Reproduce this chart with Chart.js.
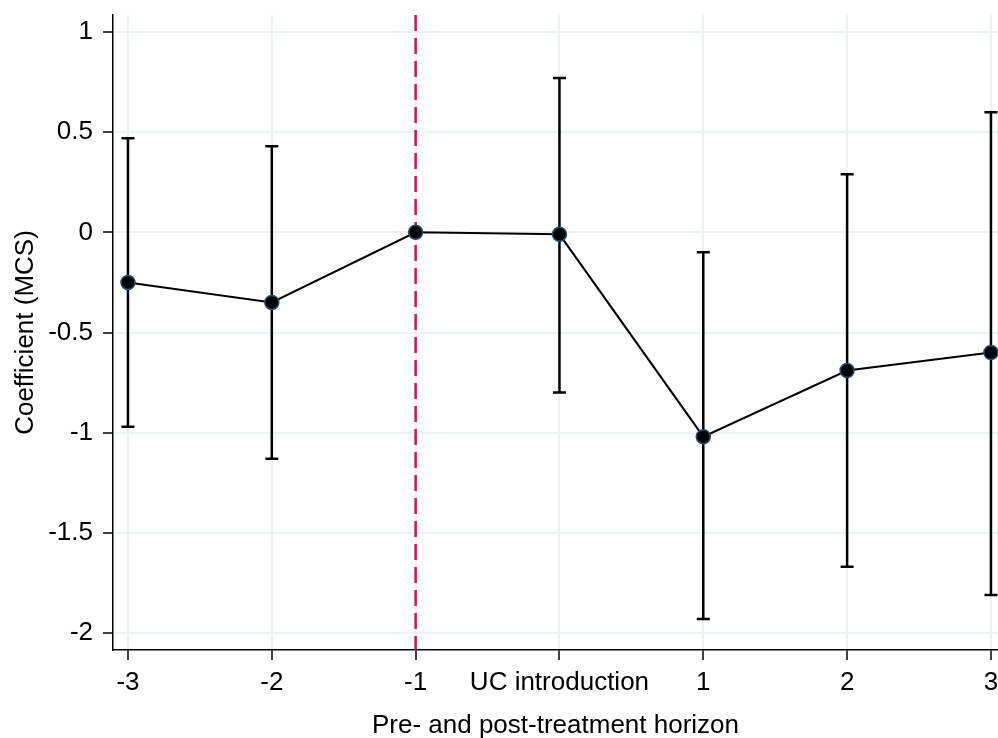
<!DOCTYPE html>
<html>
<head>
<meta charset="utf-8">
<script src="https://cdn.jsdelivr.net/npm/chart.js@4.4.0/dist/chart.umd.min.js"></script>
<style>
  html, body { margin: 0; padding: 0; background: #fff; }
  #wrap { width: 998px; height: 738px; }
</style>
</head>
<body>
<div id="wrap"><canvas id="chart" width="998" height="738"></canvas></div>
<script>
// horizon (0 = UC introduction)
const horizons = [-3, -2, -1, 0, 1, 2, 3];
const xLabels = ['-3', '-2', '-1', 'UC introduction', '1', '2', '3'];
const coef = [-0.25, -0.35, 0, -0.01, -1.02, -0.69, -0.60];
const ciUpper = [0.47, 0.43, null, 0.77, -0.10, 0.29, 0.60];
const ciLower = [-0.97, -1.13, null, -0.80, -1.93, -1.67, -1.81];
const yTicks = [-2, -1.5, -1, -0.5, 0, 0.5, 1];
const refLine = -1;

const errorBars = {
  id: 'errorBars',
  beforeDatasetsDraw(chart) {
    const { ctx, chartArea, scales: { x, y } } = chart;
    ctx.save();
    // reference line
    const rx = x.getPixelForValue(refLine);
    ctx.strokeStyle = '#c81a48';
    ctx.lineWidth = 2.5;
    ctx.setLineDash([16, 7]);
    ctx.beginPath();
    ctx.moveTo(rx, chartArea.top);
    ctx.lineTo(rx, chartArea.bottom);
    ctx.stroke();
    ctx.setLineDash([]);

    ctx.beginPath();
    ctx.rect(chartArea.left, chartArea.top, chartArea.right - chartArea.left, chartArea.bottom - chartArea.top);
    ctx.clip();
    ctx.strokeStyle = '#000';
    ctx.lineWidth = 2.5;
    horizons.forEach((h, i) => {
      if (ciUpper[i] === null) return;
      const px = x.getPixelForValue(h);
      const top = y.getPixelForValue(ciUpper[i]);
      const bot = y.getPixelForValue(ciLower[i]);
      ctx.beginPath();
      ctx.moveTo(px, top);
      ctx.lineTo(px, bot);
      ctx.moveTo(px - 6.5, top);
      ctx.lineTo(px + 6.5, top);
      ctx.moveTo(px - 6.5, bot);
      ctx.lineTo(px + 6.5, bot);
      ctx.stroke();
    });
    ctx.restore();
  }
};

Chart.defaults.font.family = '"Liberation Sans", Arial, sans-serif';
Chart.defaults.font.size = 26;
Chart.defaults.color = '#000';

new Chart(document.getElementById('chart'), {
  type: 'line',
  data: {
    datasets: [{
      data: horizons.map((h, i) => ({ x: h, y: coef[i] })),
      borderColor: '#000',
      borderWidth: 2,
      pointRadius: 7,
      pointBackgroundColor: '#000',
      pointBorderColor: '#1f4e79',
      pointBorderWidth: 1.5,
      tension: 0,
      clip: false
    }]
  },
  options: {
    responsive: false,
    animation: false,
    layout: { autoPadding: false, padding: { top: 15, right: 0, left: 0, bottom: 0 } },
    plugins: { legend: { display: false }, tooltip: { enabled: false } },
    scales: {
      x: {
        type: 'linear',
        min: -3.104,
        max: 3.049,
        afterBuildTicks: s => { s.ticks = horizons.map(v => ({ value: v })); },
        afterFit: s => { s.height = 88; s.paddingLeft = 0; s.paddingRight = 0; },
        ticks: {
          padding: 7,
          maxRotation: 0,
          autoSkip: false,
          callback: v => xLabels[horizons.indexOf(v)]
        },
        grid: { color: '#eaf2f3', lineWidth: 2, tickColor: '#000', tickLength: 10, tickWidth: 1.5 },
        border: { color: '#000', width: 1.5 },
        title: { display: true, text: 'Pre- and post-treatment horizon', padding: { top: 0, bottom: -3 } }
      },
      y: {
        min: -2.085,
        max: 1.085,
        afterBuildTicks: s => { s.ticks = yTicks.map(v => ({ value: v })); },
        afterFit: s => { s.width = 113; s.paddingTop = 0; s.paddingBottom = 0; },
        ticks: { padding: 10, callback: v => String(v) },
        grid: { color: '#eaf2f3', lineWidth: 2, tickColor: '#000', tickLength: 10, tickWidth: 1.5 },
        border: { color: '#000', width: 1.5 },
        title: { display: true, text: 'Coefficient (MCS)', padding: { top: 10, bottom: 0 } }
      }
    }
  },
  plugins: [errorBars]
});
</script>
</body>
</html>
